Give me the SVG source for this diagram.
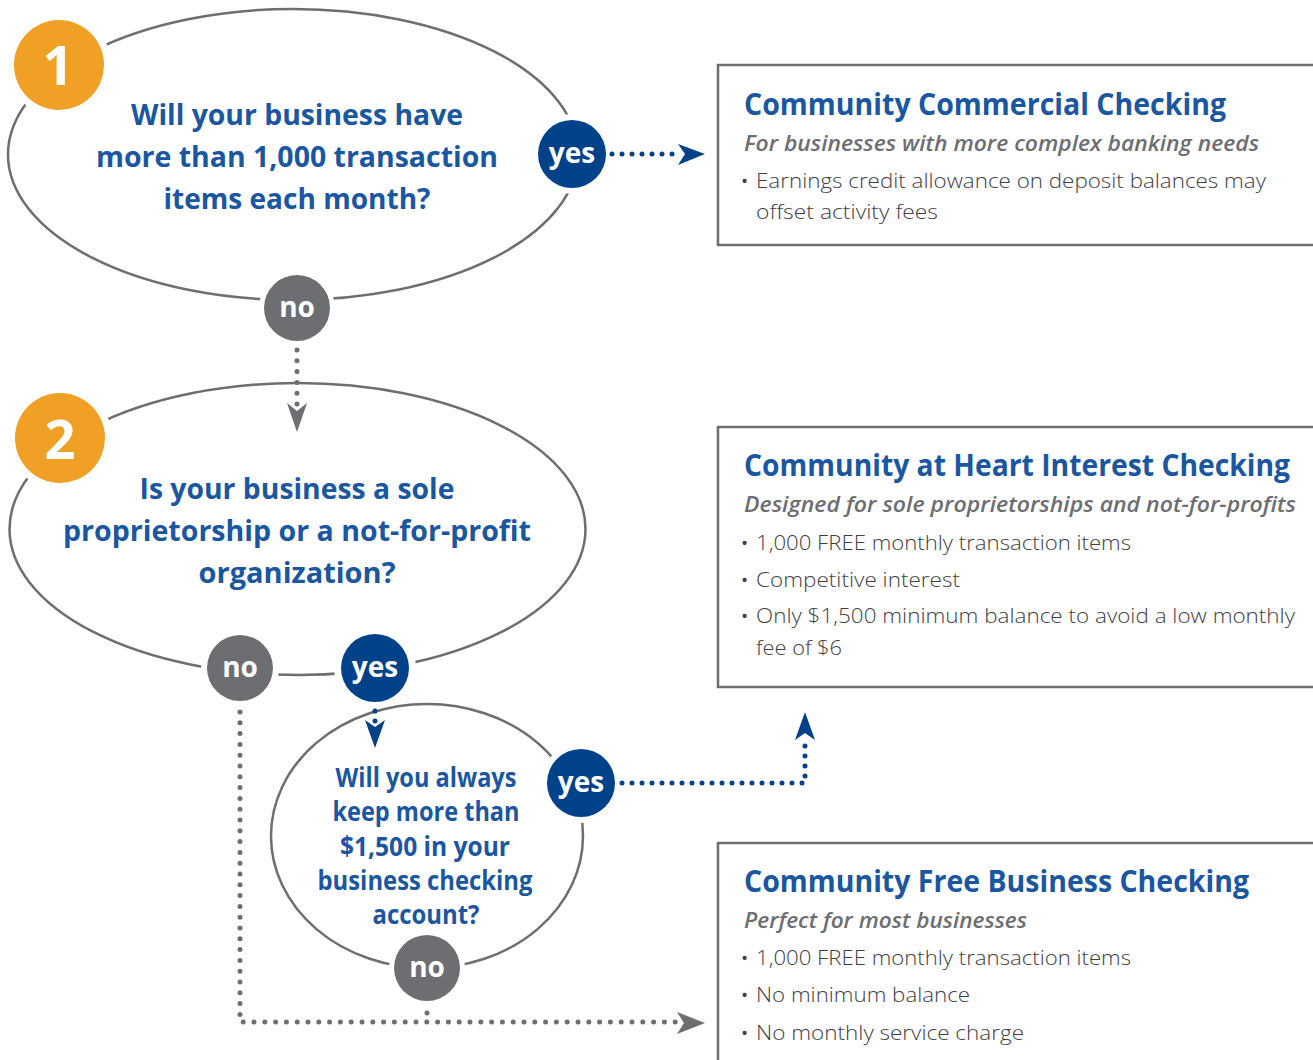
<svg xmlns="http://www.w3.org/2000/svg" width="1313" height="1060" viewBox="0 0 1313 1060">
<style>
  .shape{fill:#fff;stroke:#6d6e71;stroke-width:2.5}
  .box{fill:#fff;stroke:#6d6e71;stroke-width:2.5}
  .q{font-family:"Open Sans","Liberation Sans",sans-serif;font-weight:700;fill:#1b56a0;text-anchor:middle}
  .num{font-family:"Open Sans","Liberation Sans",sans-serif;font-weight:700;fill:#fff;text-anchor:middle;font-size:54px}
  .lbl{font-family:"Open Sans","Liberation Sans",sans-serif;font-weight:700;fill:#fff;text-anchor:middle;font-size:28px}
  .ring{fill:#fff}
  .orange{fill:#f0a024}
  .yes{fill:#00428a}
  .no{fill:#6d6e71}
  .title{font-family:"Open Sans","Liberation Sans",sans-serif;font-weight:700;fill:#1b56a0;font-size:30px}
  .sub{font-family:"Open Sans","Liberation Sans",sans-serif;font-weight:600;font-style:italic;fill:#6d6e71;font-size:21px}
  .body{font-family:"Open Sans","Liberation Sans",sans-serif;font-weight:300;fill:#414042;font-size:21px}
  .bul{font-family:"Open Sans","Liberation Sans",sans-serif;fill:#414042;font-size:19px}
  .dotb{fill:none;stroke:#00428a;stroke-width:5;stroke-linecap:round;stroke-dasharray:0 10}
  .dotg{fill:none;stroke:#6d6e71;stroke-width:5;stroke-linecap:round;stroke-dasharray:0 10.8}
  .headb{fill:#00428a}
  .headg{fill:#6d6e71}
</style>

<g id="box1">
  <rect class="box" x="718" y="65" width="610" height="180"/>
  <text class="title" x="744" y="115" textLength="482" lengthAdjust="spacingAndGlyphs">Community Commercial Checking</text>
  <text class="sub" x="744" y="151" textLength="515" lengthAdjust="spacingAndGlyphs">For businesses with more complex banking needs</text>
  <text class="bul" x="741" y="188">•</text>
  <text class="body" x="756" y="188" textLength="510" lengthAdjust="spacingAndGlyphs">Earnings credit allowance on deposit balances may</text>
  <text class="body" x="756" y="219" textLength="182" lengthAdjust="spacingAndGlyphs">offset activity fees</text>
</g>

<g id="box2">
  <rect class="box" x="718" y="427" width="610" height="260"/>
  <text class="title" x="744" y="476" textLength="546" lengthAdjust="spacingAndGlyphs">Community at Heart Interest Checking</text>
  <text class="sub" x="744" y="512" textLength="552" lengthAdjust="spacingAndGlyphs">Designed for sole proprietorships and not-for-profits</text>
  <text class="bul" x="741" y="550">•</text>
  <text class="body" x="756" y="550" textLength="375" lengthAdjust="spacingAndGlyphs">1,000 FREE monthly transaction items</text>
  <text class="bul" x="741" y="587">•</text>
  <text class="body" x="756" y="587" textLength="204" lengthAdjust="spacingAndGlyphs">Competitive interest</text>
  <text class="bul" x="741" y="623">•</text>
  <text class="body" x="756" y="623" textLength="539" lengthAdjust="spacingAndGlyphs">Only $1,500 minimum balance to avoid a low monthly</text>
  <text class="body" x="756" y="655" textLength="86" lengthAdjust="spacingAndGlyphs">fee of $6</text>
</g>

<g id="box3">
  <rect class="box" x="718" y="843" width="610" height="240"/>
  <text class="title" x="744" y="892" textLength="505" lengthAdjust="spacingAndGlyphs">Community Free Business Checking</text>
  <text class="sub" x="744" y="928" textLength="283" lengthAdjust="spacingAndGlyphs">Perfect for most businesses</text>
  <text class="bul" x="741" y="965">•</text>
  <text class="body" x="756" y="965" textLength="375" lengthAdjust="spacingAndGlyphs">1,000 FREE monthly transaction items</text>
  <text class="bul" x="741" y="1002">•</text>
  <text class="body" x="756" y="1002" textLength="214" lengthAdjust="spacingAndGlyphs">No minimum balance</text>
  <text class="bul" x="741" y="1040">•</text>
  <text class="body" x="756" y="1040" textLength="268" lengthAdjust="spacingAndGlyphs">No monthly service charge</text>
</g>

<g id="q1">
  <ellipse class="shape" cx="293" cy="154.5" rx="285" ry="145.5"/>
  <circle class="ring" cx="59" cy="65" r="52"/>
  <circle class="orange" cx="59" cy="65" r="45"/>
  <text class="num" x="58" y="85">1</text>
  <text class="q" x="297" y="125" font-size="29" textLength="332" lengthAdjust="spacingAndGlyphs">Will your business have</text>
  <text class="q" x="297" y="167" font-size="29" textLength="402" lengthAdjust="spacingAndGlyphs">more than 1,000 transaction</text>
  <text class="q" x="297" y="209" font-size="29" textLength="267" lengthAdjust="spacingAndGlyphs">items each month?</text>
  <g id="q1-yes"><circle class="ring" cx="572" cy="154" r="40"/><circle class="yes" cx="572" cy="154" r="34"/><text class="lbl" x="572" y="163">yes</text></g>
  <g id="q1-no"><circle class="ring" cx="297" cy="308" r="38"/><circle class="no" cx="297" cy="308" r="33"/><text class="lbl" x="297" y="317">no</text></g>
</g>

<g id="q2">
  <ellipse class="shape" cx="297.5" cy="529" rx="288" ry="146"/>
  <circle class="ring" cx="60" cy="438" r="52"/>
  <circle class="orange" cx="60" cy="438" r="45"/>
  <text class="num" x="60" y="459">2</text>
  <text class="q" x="297" y="499" font-size="29" textLength="315" lengthAdjust="spacingAndGlyphs">Is your business a sole</text>
  <text class="q" x="297" y="541" font-size="29" textLength="468" lengthAdjust="spacingAndGlyphs">proprietorship or a not-for-profit</text>
  <text class="q" x="297" y="583" font-size="29" textLength="197" lengthAdjust="spacingAndGlyphs">organization?</text>
  <g id="q2-no"><circle class="ring" cx="240" cy="668" r="39"/><circle class="no" cx="240" cy="668" r="33"/><text class="lbl" x="240" y="677">no</text></g>
  <g id="q2-yes"><circle class="ring" cx="375" cy="668" r="41"/><circle class="yes" cx="375" cy="668" r="34"/><text class="lbl" x="375" y="677">yes</text></g>
</g>

<g id="q3">
  <ellipse class="shape" cx="427" cy="836" rx="156" ry="132"/>
  <text class="q" x="426" y="787" font-size="26" textLength="181" lengthAdjust="spacingAndGlyphs">Will you always</text>
  <text class="q" x="426" y="821" font-size="26" textLength="187" lengthAdjust="spacingAndGlyphs">keep more than</text>
  <text class="q" x="425" y="856" font-size="26" textLength="170" lengthAdjust="spacingAndGlyphs">$1,500 in your</text>
  <text class="q" x="425" y="890" font-size="26" textLength="215" lengthAdjust="spacingAndGlyphs">business checking</text>
  <text class="q" x="426" y="924" font-size="26" textLength="107" lengthAdjust="spacingAndGlyphs">account?</text>
  <g id="q3-yes"><circle class="ring" cx="581" cy="783" r="40"/><circle class="yes" cx="581" cy="783" r="34"/><text class="lbl" x="581" y="792">yes</text></g>
  <g id="q3-no"><circle class="ring" cx="427" cy="968" r="38"/><circle class="no" cx="427" cy="968" r="33"/><text class="lbl" x="427" y="977">no</text></g>
</g>

<g id="connectors">
  <path class="dotb" d="M612 154 H676"/>
  <path class="headb" d="M705 154 L678 144 L685 154 L678 165 Z"/>
  <path class="dotg" d="M297 350 V405"/>
  <path class="headg" d="M297 432 L287 403 L297 411 L307 403 Z"/>
  <path class="dotb" d="M375 711 V722"/>
  <path class="headb" d="M375 748 L365 720 L375 727 L385 720 Z"/>
  <path class="dotb" d="M622 783 H805 V740"/>
  <path class="headb" d="M805 712 L795 740 L805 733 L815 740 Z"/>
  <path class="dotg" d="M240 712 V1022 H680"/>
  <path class="dotg" d="M427 1013 V1022"/>
  <path class="headg" d="M705 1023 L677 1012 L684 1023 L677 1034 Z"/>
</g>
</svg>
